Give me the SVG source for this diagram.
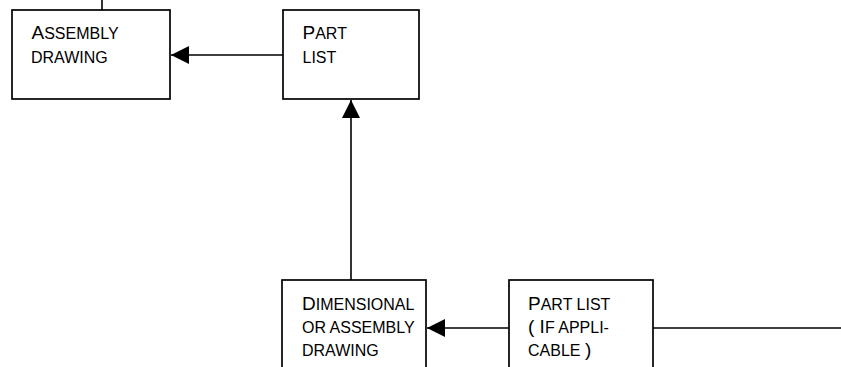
<svg xmlns="http://www.w3.org/2000/svg" width="841" height="367" viewBox="0 0 841 367">
<style>
.box{fill:#fff;stroke:#000;stroke-width:1.7}
.ln{fill:none;stroke:#000;stroke-width:1.6}
text{font-family:"Liberation Sans",Arial,sans-serif;font-size:16px;fill:#000}
.b{font-size:19px}
</style>
<defs>
<marker id="ah" markerUnits="userSpaceOnUse" markerWidth="19" markerHeight="19" refX="18" refY="9" orient="auto" viewBox="0 0 19 19">
<path d="M0,0 L18,9 L0,18 Z" fill="#000"/>
</marker>
</defs>
<rect width="841" height="367" fill="#fff"/>
<g id="n1">
<rect class="box" x="12" y="10" width="158" height="89"/>
<text x="31.5" y="39"><tspan class="b">A</tspan>SSEMBLY</text>
<text x="31" y="62.5">DRAWING</text>
</g>
<g id="n2">
<rect class="box" x="283" y="10" width="136" height="89"/>
<text x="302.5" y="39"><tspan class="b">P</tspan>ART</text>
<text x="302.5" y="62.5">LIST</text>
</g>
<g id="n3">
<rect class="box" x="282" y="280" width="144" height="120"/>
<text x="302" y="310"><tspan class="b">D</tspan>IMENSIONAL</text>
<text x="302" y="333">OR ASSEMBLY</text>
<text x="302" y="355.5">DRAWING</text>
</g>
<g id="n4">
<rect class="box" x="509" y="280" width="144" height="120"/>
<text x="528" y="310"><tspan class="b">P</tspan>ART LIST</text>
<text x="528" y="333"><tspan class="b">( I</tspan>F APPLI-</text>
<text x="528" y="355.5">CABLE <tspan class="b">)</tspan></text>
</g>
<g id="connectors">
<path class="ln" d="M102,0 V10"/>
<path class="ln" d="M283,55 H171" marker-end="url(#ah)"/>
<path class="ln" d="M351,280 V100" marker-end="url(#ah)"/>
<path class="ln" d="M509,328 H427" marker-end="url(#ah)"/>
<path class="ln" d="M653,328 H841"/>
</g>
</svg>
